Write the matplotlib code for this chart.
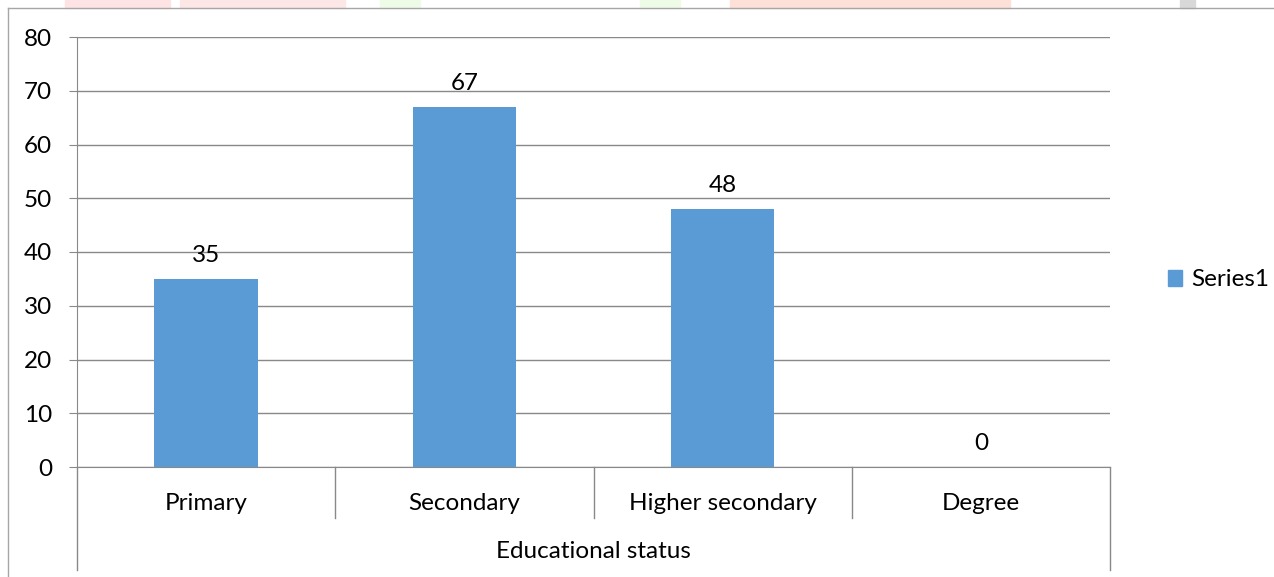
import matplotlib
matplotlib.use("Agg")
import matplotlib.pyplot as plt
from matplotlib.lines import Line2D
from matplotlib.patches import Rectangle

plt.rcParams['font.family'] = ['Lato', 'DejaVu Sans']

# donnees
categories = ["Primary", "Secondary", "Higher secondary", "Degree"]
values = [35, 67, 48, 0]
yticks = [0, 10, 20, 30, 40, 50, 60, 70, 80]
xlabel = "Educational status"
series_name = "Series1"

blue = "#5B9BD5"
grey = "#898989"
W, H = 1274, 577
fs = 17.5

fig = plt.figure(figsize=(W / 100, H / 100), dpi=100)

# bandeau filigrane en haut (fond de la page)
for x0, x1, c in [(65, 170, "#fde3e3"), (180, 345, "#fde6e6"), (380, 420, "#eefbe6"),
                  (640, 680, "#eefbe6"), (730, 1010, "#fde0d8"), (1180, 1195, "#d8d8d8")]:
    fig.patches.append(Rectangle((x0 / W, 1 - 8 / H), (x1 - x0) / W, 8 / H,
                                 transform=fig.transFigure, color=c, zorder=0))

# cadre du graphique
fig.add_artist(Line2D([8 / W, 1], [1 - 8 / H, 1 - 8 / H], color="#a6a6a6", lw=1))
fig.add_artist(Line2D([8 / W, 8 / W], [0, 1 - 8 / H], color="#a6a6a6", lw=1))

ax = fig.add_axes([77 / W, 1 - 467 / H, (1110 - 77) / W, (467 - 37) / H])
x = list(range(len(categories)))
bars = ax.bar(x, values, width=0.4, color=blue, zorder=3, label=series_name)
ax.set_xlim(-0.5, len(categories) - 0.5)
ax.set_ylim(0, 80)
ax.set_yticks(yticks)
ax.set_yticklabels([str(t) for t in yticks], fontsize=fs)
ax.yaxis.grid(True, color=grey, lw=1)
ax.set_axisbelow(True)
ax.tick_params(axis='y', length=6, color=grey, pad=12)
ax.set_xticks([])
for s in ["top", "right"]:
    ax.spines[s].set_visible(False)
ax.spines["left"].set_color(grey)
ax.spines["bottom"].set_color(grey)

for b, v in zip(bars, values):
    ax.annotate(str(v), (b.get_x() + b.get_width() / 2, v), xytext=(0, 9),
                textcoords="offset points", ha="center", va="bottom", fontsize=fs)

# axe des categories a deux niveaux
px = 80 / (467 - 37)
for i in range(len(categories) + 1):
    xb = i - 0.5
    outer = i == 0 or i == len(categories)
    y_end = -(570 - 467) * px if outer else -(518 - 467) * px
    ax.plot([xb, xb], [0, y_end], color=grey, lw=1, clip_on=False)
for xi, c in zip(x, categories):
    ax.text(xi, -(503 - 467) * px, c, ha="center", va="center", fontsize=fs)
ax.text((len(categories) - 1) / 2, -(552 - 467) * px, xlabel,
        ha="center", va="center", fontsize=fs)
ax.set_ylim(0, 80)

fig.legend(handles=[Rectangle((0, 0), 1, 1, color=blue)], labels=[series_name],
           loc="center left", bbox_to_anchor=(1146 / W, 1 - 280 / H), frameon=False,
           fontsize=fs, handlelength=0.6, handleheight=0.6, handletextpad=0.35)

fig.savefig("out.png", dpi=100)
